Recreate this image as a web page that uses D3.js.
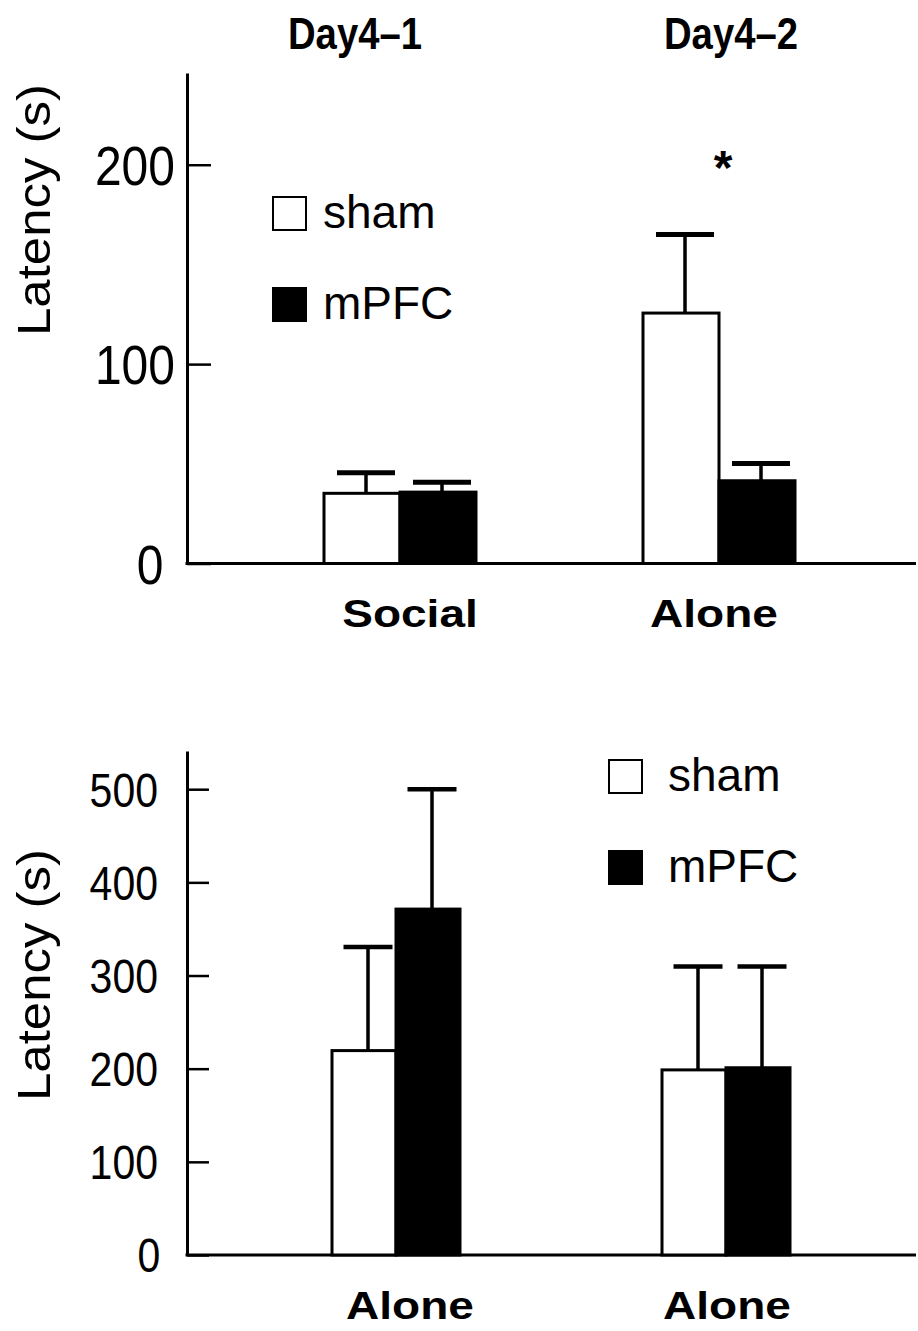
<!DOCTYPE html>
<html>
<head>
<meta charset="utf-8">
<script src="https://cdn.jsdelivr.net/npm/d3@7"></script>
<style>
  body { margin: 0; background: #fff; }
  svg { display: block; }
  text { font-family: "Liberation Sans", Arial, Helvetica, sans-serif; fill: #000; }
</style>
</head>
<body>
<svg id="chart" width="918" height="1331"></svg>
<script>
const series = ["sham", "mPFC"];
const fills = ["#fff", "#000"];

// upper panel: Day4-1 / Day4-2
const topCats = ["Social", "Alone"];
const topTitles = ["Day4\u20131", "Day4\u20132"];
const topMean = [[35.2, 35.8], [125.6, 41.5]];   // [sham, mPFC]
const topErr = [[45.5, 40.8], [165, 50.2]];
const topTicks = [0, 100, 200];

// lower panel
const botCats = ["Alone", "Alone"];
const botMean = [[219.4, 371.3], [198.7, 201]];
const botErr = [[330.5, 500], [309.7, 309.7]];
const botTicks = [0, 100, 200, 300, 400, 500];

const svg = d3.select("#chart");

function drawPanel(p) {
  const g = svg.append("g");

  const y = d3.scaleLinear().domain([0, p.yMax]).range([p.y0, p.yTop]);
  const x = d3.scalePoint().domain(d3.range(p.cats.length)).range(p.centers);
  const xs = d3.scaleBand().domain(series).range([-p.barW, p.barW]);

  // y axis, ticks pointing inward
  const ax = g.append("g")
    .attr("transform", `translate(${p.axisX},0)`)
    .call(d3.axisLeft(y).tickValues(p.ticks).tickSizeInner(-p.tickLen).tickSizeOuter(0).tickPadding(p.tickPad));
  ax.select(".domain").attr("stroke", "#000").attr("stroke-width", 3);
  ax.selectAll(".tick line").attr("stroke", "#000").attr("stroke-width", 2.5);
  ax.selectAll(".tick text")
    .attr("font-size", p.tickFont + "px")
    .attr("font-family", "Liberation Sans, Arial, sans-serif")
    .attr("dy", "0.36em")
    .attr("transform", "scale(1,1.15)");   // digits are drawn a little tall
  ax.selectAll(".tick").filter(d => d === 0).select("text")
    .attr("text-anchor", "middle")
    .attr("x", p.zeroX - p.axisX);

  // baseline
  g.append("line")
    .attr("x1", p.axisX - 1.5).attr("x2", 916)
    .attr("y1", y(0)).attr("y2", y(0))
    .attr("stroke", "#000").attr("stroke-width", 3);

  // y title
  g.append("text")
    .attr("transform", `translate(50,${p.yTitleY}) rotate(-90)`)
    .attr("text-anchor", "middle")
    .attr("font-size", "46px")
    .attr("textLength", 252)
    .attr("lengthAdjust", "spacingAndGlyphs")
    .text("Latency (s)");

  const rows = [];
  p.cats.forEach((c, i) => series.forEach((s, j) => {
    rows.push({ i, s, j, v: p.mean[i][j], e: p.err[i][j] });
  }));

  // error bars (upper side only)
  const eb = g.selectAll("g.err").data(rows).join("g").attr("class", "err");
  eb.append("line")
    .attr("x1", d => x(d.i) + xs(d.s) + xs.bandwidth() / 2 + 4)
    .attr("x2", d => x(d.i) + xs(d.s) + xs.bandwidth() / 2 + 4)
    .attr("y1", d => y(d.v)).attr("y2", d => y(d.e))
    .attr("stroke", "#000").attr("stroke-width", 3.5);
  eb.append("line")
    .attr("x1", d => x(d.i) + xs(d.s) + xs.bandwidth() / 2 + 4 - p.capW / 2)
    .attr("x2", d => x(d.i) + xs(d.s) + xs.bandwidth() / 2 + 4 + p.capW / 2)
    .attr("y1", d => y(d.e)).attr("y2", d => y(d.e))
    .attr("stroke", "#000").attr("stroke-width", p.capStroke);

  // bars
  g.selectAll("rect.bar").data(rows).join("rect")
    .attr("class", "bar")
    .attr("x", d => x(d.i) + xs(d.s))
    .attr("y", d => y(d.v))
    .attr("width", xs.bandwidth())
    .attr("height", d => y(0) - y(d.v))
    .attr("fill", d => fills[d.j])
    .attr("stroke", "#000")
    .attr("stroke-width", 3);

  // category labels, wide bold
  g.selectAll("text.cat").data(p.cats).join("text")
    .attr("class", "cat")
    .attr("x", (d, i) => x(i) + p.catShift[i])
    .attr("y", p.catY)
    .attr("text-anchor", "middle")
    .attr("font-size", "39px")
    .attr("font-weight", "bold")
    .text(d => d)
    .attr("lengthAdjust", "spacingAndGlyphs")
    .attr("textLength", function () { return this.getComputedTextLength() * 1.18; });

  // legend
  const lg = g.selectAll("g.leg").data(series).join("g")
    .attr("class", "leg")
    .attr("transform", (d, i) => `translate(${p.legX},${p.legY[i]})`);
  lg.append("rect")
    .attr("x", 1).attr("y", 1)
    .attr("width", 33).attr("height", 33)
    .attr("fill", (d, i) => fills[i])
    .attr("stroke", "#000").attr("stroke-width", 2);
  lg.append("text")
    .attr("x", p.legTextX - p.legX)
    .attr("y", 32)
    .attr("font-size", "46px")
    .text(d => d);

  return { g, x, y, xs };
}

const upper = drawPanel({
  cats: topCats, mean: topMean, err: topErr, ticks: topTicks,
  yMax: 246, y0: 563.5, yTop: 73, axisX: 187,
  centers: [400, 719], barW: 76, capW: 58, capStroke: 5,
  tickLen: 24, tickPad: 12, tickFont: 48, zeroX: 150,
  yTitleY: 210, catY: 627, catShift: [10, -5],
  legX: 272, legY: [196, 287], legTextX: 323
});

// panel titles over the upper groups
svg.selectAll("text.title").data(topTitles).join("text")
  .attr("class", "title")
  .attr("x", (d, i) => upper.x(i) + [-45, 12][i])
  .attr("y", 49)
  .attr("text-anchor", "middle")
  .attr("font-family", "Liberation Sans Narrow, Arial Narrow, Liberation Sans, sans-serif")
  .attr("font-stretch", "condensed")
  .attr("font-weight", "bold")
  .attr("font-size", "45px")
  .attr("textLength", 134)
  .attr("lengthAdjust", "spacingAndGlyphs")
  .text(d => d);

// significance mark over the Alone group
svg.append("text")
  .attr("x", upper.x(1) + 4)
  .attr("y", 184)
  .attr("text-anchor", "middle")
  .attr("font-size", "48px")
  .attr("font-weight", "bold")
  .text("*");

drawPanel({
  cats: botCats, mean: botMean, err: botErr, ticks: botTicks,
  yMax: 541, y0: 1255, yTop: 751, axisX: 187,
  centers: [396, 726], barW: 64, capW: 49, capStroke: 4.5,
  tickLen: 22, tickPad: 29, tickFont: 41, zeroX: 149,
  yTitleY: 975, catY: 1319, catShift: [14, 1],
  legX: 608, legY: [759, 850], legTextX: 668
});
</script>
</body>
</html>
